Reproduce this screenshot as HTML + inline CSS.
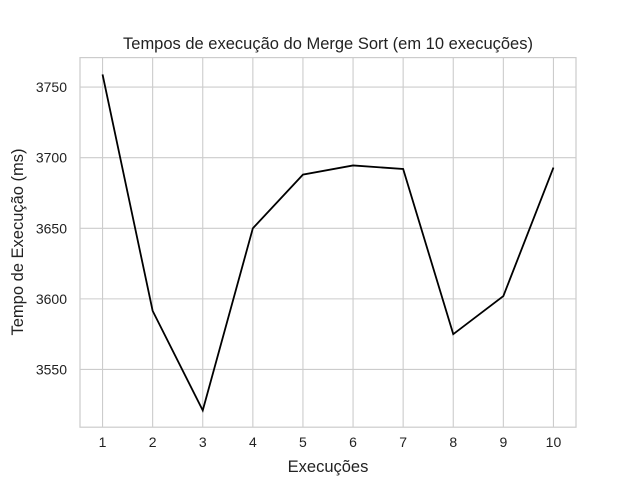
<!DOCTYPE html>
<html><head><meta charset="utf-8"><style>
body{margin:0;background:#fff;}
svg{font-family:"Liberation Sans",Arial,sans-serif;}
</style></head><body>
<svg id="chart" width="640" height="480">
<rect width="640" height="480" fill="#fff"/>
<g id="grid"></g>
<rect x="80" y="57.6" width="496" height="369.6" fill="none" stroke="#cccccc" stroke-width="1.2"/>
<g id="ticks"></g>
<path id="line" fill="none" stroke="#000" stroke-width="1.8"/>
<text x="328" y="49" text-anchor="middle" font-size="16.5" fill="#222">Tempos de execução do Merge Sort (em 10 execuções)</text>
<text x="328" y="472" text-anchor="middle" font-size="16.5" fill="#222">Execuções</text>
<text transform="translate(23,242) rotate(-90)" text-anchor="middle" font-size="16.5" fill="#222">Tempo de Execução (ms)</text>
</svg>
<script>
const runs=[1,2,3,4,5,6,7,8,9,10];
const times=[3759,3591.5,3521,3650,3688,3694.5,3692,3575,3602,3693];
const yTicks=[3550,3600,3650,3700,3750];
const L=80,R=576,T=57.6,B=427.2;
const xmin=1-0.45,xmax=10+0.45;
const dmin=Math.min(...times),dmax=Math.max(...times),m=(dmax-dmin)*0.05;
const ymin=dmin-m,ymax=dmax+m;
const X=v=>L+(v-xmin)/(xmax-xmin)*(R-L);
const Y=v=>B-(v-ymin)/(ymax-ymin)*(B-T);
const ns="http://www.w3.org/2000/svg";
const grid=document.getElementById('grid'),ticks=document.getElementById('ticks');
function mk(tag,attrs,parent,txt){const e=document.createElementNS(ns,tag);for(const k in attrs)e.setAttribute(k,attrs[k]);if(txt!==undefined)e.textContent=txt;parent.appendChild(e);return e;}
runs.forEach(r=>{
 const g=mk('line',{x1:X(r),x2:X(r),y1:T,y2:B,stroke:'#cccccc','stroke-width':1.1},grid);
 
 
 const t=mk('text',{x:X(r),y:B+20,'text-anchor':'middle','font-size':14,fill:'#222'},ticks,r);
 
 
});
yTicks.forEach(v=>{
 const g=mk('line',{x1:L,x2:R,y1:Y(v),y2:Y(v),stroke:'#cccccc','stroke-width':1.1},grid);
 
 
 const t=mk('text',{x:L-13,y:Y(v)+5,'text-anchor':'end','font-size':14,fill:'#222'},ticks,v);
 
 
});
document.getElementById('line').setAttribute('d',times.map((v,i)=>(i?'L':'M')+X(runs[i])+','+Y(v)).join(' '));
</script>
</body></html>
